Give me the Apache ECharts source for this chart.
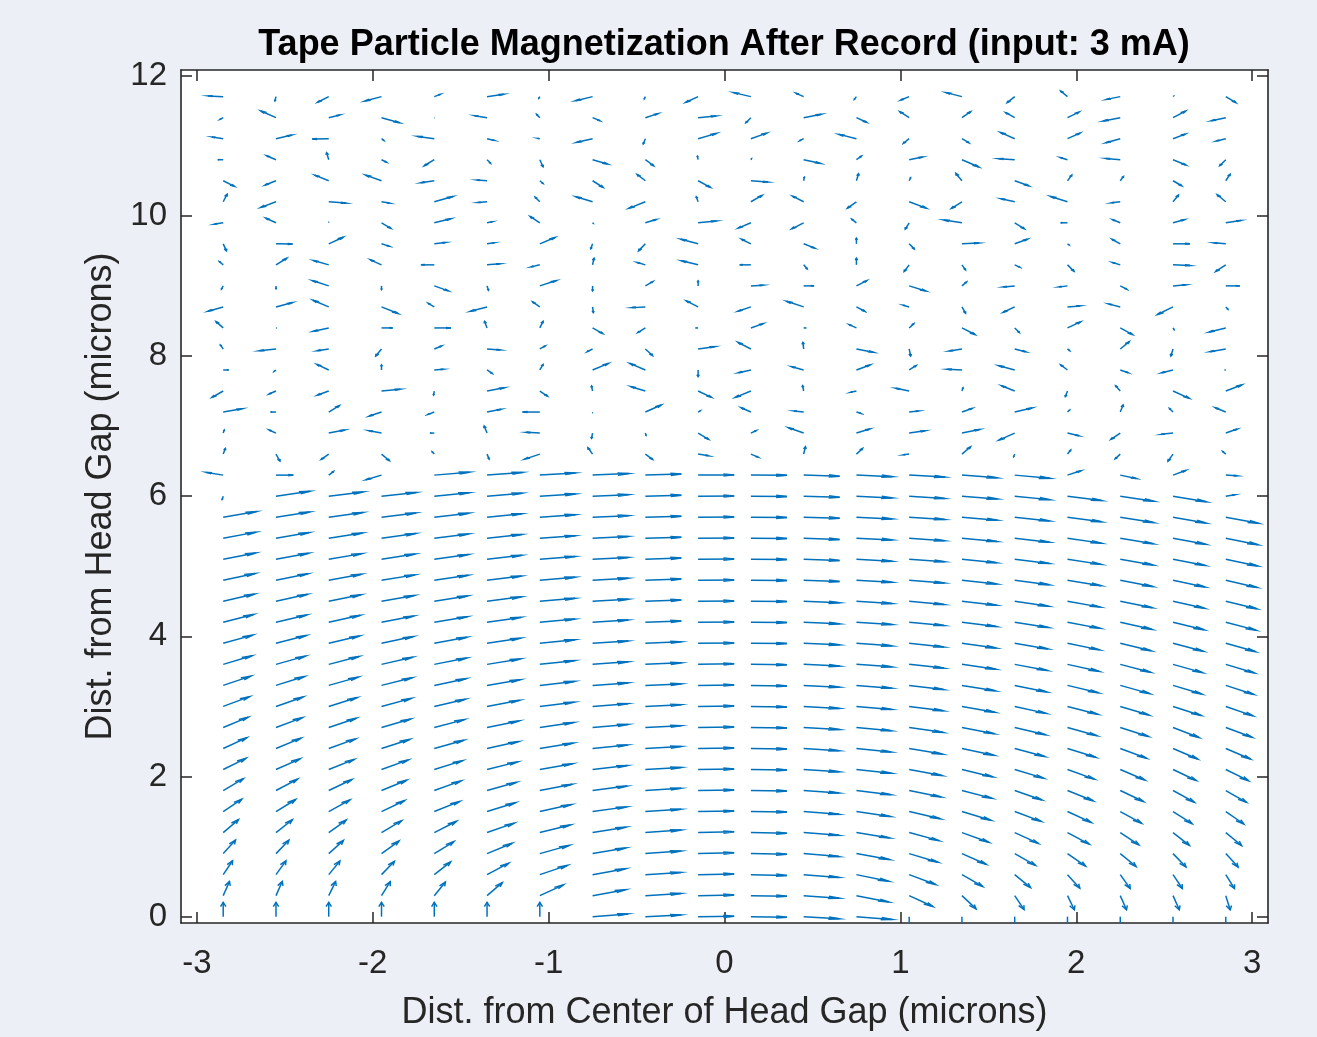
<!DOCTYPE html>
<html>
<head>
<meta charset="utf-8">
<title>Tape Particle Magnetization After Record</title>
<script src="https://cdn.jsdelivr.net/npm/echarts@6/dist/echarts.min.js"></script>
<style>
  html, body { margin: 0; padding: 0; background: #eceff5; }
  #main { width: 1317px; height: 1037px; }
</style>
</head>
<body>
<div id="main"></div>
<script>
// grid columns (microns from the centre of the head gap)
const xCols = [-2.85, -2.55, -2.25, -1.95, -1.65, -1.35, -1.05, -0.75, -0.45, -0.15,
               0.15, 0.45, 0.75, 1.05, 1.35, 1.65, 1.95, 2.25, 2.55, 2.85];

// rows where the tape got recorded: direction of the (saturated) magnetization, degrees
const yRecorded = [0, 0.3, 0.6, 0.9, 1.2, 1.5, 1.8, 2.1, 2.4, 2.7,
                   3.0, 3.3, 3.6, 3.9, 4.2, 4.5, 4.8, 5.1, 5.4, 5.7];
const recordedAngle = [
  [90, 90, 90, 90, 90, 90, 90, 11, 7, 2, -2, -8, -11, -90, -90, -90, -90, -90, -90, -90],
  [80, 80, 79, 76, 72, 65, 49, 24, 9, 3, -2, -10, -26, -49, -67, -75, -79, -80, -80, -83],
  [75, 74, 72, 69, 63, 53, 40, 24, 9, 3, -3, -11, -27, -43, -55, -64, -70, -74, -75, -76],
  [70, 69, 66, 61, 57, 46, 35, 23, 10, 3, -3, -12, -24, -37, -48, -55, -60, -64, -69, -70],
  [65, 63, 61, 56, 52, 41, 32, 22, 10, 3, -3, -11, -22, -34, -42, -49, -53, -59, -63, -64],
  [59, 57, 54, 50, 45, 38, 29, 19, 9, 2, -2, -11, -20, -30, -37, -43, -49, -54, -58, -60],
  [56, 53, 50, 46, 42, 35, 26, 18, 9, 2, -2, -10, -17, -27, -33, -41, -45, -50, -54, -55],
  [51, 48, 45, 42, 38, 32, 24, 16, 8, 2, -2, -9, -15, -25, -31, -37, -42, -47, -50, -51],
  [49, 46, 42, 39, 35, 29, 22, 14, 8, 2, -2, -9, -14, -23, -28, -34, -38, -43, -47, -47],
  [46, 43, 40, 36, 33, 27, 20, 12, 7, 2, -2, -8, -13, -20, -26, -31, -35, -39, -44, -43],
  [43, 41, 38, 34, 30, 25, 17, 11, 7, 2, -2, -8, -12, -18, -24, -29, -33, -37, -39, -41],
  [40, 38, 35, 32, 28, 23, 16, 10, 6, 2, -2, -7, -11, -17, -22, -27, -31, -35, -37, -39],
  [37, 35, 33, 30, 26, 22, 15, 10, 6, 2, -2, -7, -10, -15, -20, -25, -29, -33, -35, -37],
  [35, 33, 31, 28, 25, 21, 14, 9, 6, 1, -1, -6, -10, -15, -19, -23, -27, -31, -33, -35],
  [33, 31, 29, 26, 23, 20, 13, 9, 5, 1, -1, -6, -9, -13, -17, -21, -25, -29, -31, -33],
  [30, 29, 27, 24, 22, 18, 12, 8, 5, 1, -1, -6, -9, -13, -16, -20, -24, -27, -29, -31],
  [28, 27, 25, 22, 20, 17, 12, 8, 5, 1, -1, -5, -8, -11, -15, -18, -22, -26, -28, -30],
  [26, 25, 23, 21, 19, 16, 11, 7, 5, 1, -1, -5, -8, -10, -14, -17, -21, -24, -26, -28],
  [25, 23, 21, 19, 17, 15, 10, 7, 4, 1, -1, -5, -7, -10, -13, -16, -20, -23, -25, -27],
  [23, 21, 19, 17, 16, 14, 10, 6, 4, 1, -1, -4, -7, -9, -12, -15, -19, -22, -24, -25]
];

// rows above: mostly unrecorded particles, vector components (1 = saturated)
const yFree = [6.0, 6.3, 6.6, 6.9, 7.2, 7.5, 7.8, 8.1, 8.4, 8.7,
               9.0, 9.3, 9.6, 9.9, 10.2, 10.5, 10.8, 11.1, 11.4, 11.7];
const freeU = [
  [-0.03, 0.94, 0.956, 0.966, 0.97, 0.978, 0.988, 0.995, 0.998, 1, 1, 0.998, 0.993, 0.988, 0.982, 0.97, 0.951, 0.934, 0.921, 0.25],
  [-0.46, 0.48, 0.13, -0.43, 0.978, 0.982, 0.988, 0.995, 0.998, 1, 1, 0.998, 0.995, 0.99, 0.982, 0.974, 0.37, 0.44, 0.35, 0.31],
  [0.06, 0.11, -0.21, 0.22, -0.06, 0.06, -0.42, -0.13, 0.2, 0.29, 0.2, 0.05, 0.17, -0.16, 0.24, -0.03, 0.09, -0.14, -0.14, -0.09],
  [0.03, -0.19, 0.44, -0.35, -0.12, -0.08, -0.37, -0.03, 0.02, 0.29, 0.14, -0.42, 0.37, 0.44, 0.49, -0.44, 0.32, -0.26, -0.33, 0.32],
  [0.53, -0.15, 0.29, -0.34, -0.17, 0.39, -0.48, 0, 0.44, 0.05, -0.27, -0.27, 0.12, 0.26, 0.28, 0.48, 0.06, 0.08, -0.1, -0.29],
  [-0.31, -0.19, -0.31, 0.52, -0.02, 0.48, 0.21, -0.03, -0.4, 0.37, -0.43, -0.03, -0.16, -0.37, 0.03, -0.37, -0.06, -0.13, 0.45, 0.44],
  [0.15, -0.05, -0.33, 0, 0.25, 0.14, 0.09, 0.44, -0.43, 0, -0.34, -0.33, 0.38, 0.19, -0.4, -0.44, -0.19, 0.22, -0.31, -0.03],
  [-0.08, -0.46, -0.31, -0.16, 0.2, 0.37, 0.15, -0.15, 0.2, 0.46, -0.36, -0.02, 0.47, 0.04, -0.35, 0.3, 0.06, 0.25, -0.06, -0.44],
  [-0.2, 0.02, -0.42, 0.31, 0.46, -0.07, 0.09, 0.28, -0.21, -0.07, 0.34, 0.07, -0.2, 0.13, 0.36, 0.13, 0.36, 0.34, 0.03, -0.46],
  [-0.42, 0.46, -0.44, 0.46, -0.17, -0.46, -0.2, 0.02, -0.37, -0.33, -0.36, -0.47, 0.23, -0.17, 0.1, -0.32, 0.35, -0.33, -0.43, 0.06],
  [-0.05, 0, -0.46, 0, 0.39, 0.04, 0.46, 0, 0.21, 0, 0.34, 0.29, 0.29, 0.46, 0.13, -0.31, -0.23, 0.18, 0.36, 0.39],
  [-0.11, 0.3, -0.42, -0.31, -0.37, 0.36, -0.24, 0.04, -0.22, -0.46, -0.31, 0.1, 0, -0.14, 0.1, 0.14, 0.18, -0.21, 0.47, -0.28],
  [0.09, 0.46, 0.4, 0.21, 0.31, 0.2, 0.42, -0.05, -0.19, -0.48, -0.26, 0.31, 0, 0.14, 0.47, 0.35, 0.04, -0.23, 0.47, -0.33],
  [-0.24, -0.28, 0, 0.26, 0.46, 0.14, -0.27, 0.01, 0.3, 0.51, -0.35, -0.33, -0.13, -0.11, -0.5, 0.27, -0.19, -0.21, 0.31, 0.42],
  [0.11, -0.42, 0.48, 0.22, 0.52, -0.25, -0.13, -0.46, -0.46, -0.05, 0.31, -0.31, -0.25, 0.47, -0.29, -0.38, -0.47, -0.24, 0.15, -0.24],
  [0.31, -0.3, -0.39, -0.44, -0.37, -0.28, 0.09, 0.29, -0.23, 0.34, 0.47, 0.02, 0.06, 0.04, -0.17, 0.39, 0.12, 0.09, 0.24, 0.12],
  [-0.15, -0.26, -0.06, 0.13, -0.28, 0.1, 0.09, 0.41, 0.23, -0.02, 0.02, 0.46, 0.14, 0.37, 0.47, -0.44, -0.19, -0.4, 0.36, -0.17],
  [-0.31, 0.44, -0.46, 0.07, -0.46, 0.2, -0.05, -0.44, -0.06, 0.51, 0.44, -0.11, -0.48, -0.16, 0.19, -0.4, 0.35, -0.4, 0.34, -0.26],
  [-0.09, -0.42, 0.31, 0.5, 0.01, -0.35, -0.09, 0.2, 0.35, 0.5, -0.14, 0.49, 0.28, -0.26, 0.24, -0.25, 0.32, -0.47, 0.35, -0.4],
  [-0.42, -0.03, -0.31, -0.46, 0.17, 0.46, -0.03, -0.47, -0.03, -0.34, -0.48, -0.21, -0.06, -0.23, -0.44, -0.21, -0.19, -0.38, 0.01, 0.28]
];
const freeV = [
  [-0.23, 0.34, 0.292, 0.259, 0.242, 0.208, 0.156, 0.105, 0.07, 0.017, -0.017, -0.07, -0.122, -0.156, -0.191, -0.242, -0.309, -0.358, -0.391, 0.09],
  [0.19, 0, 0.25, -0.32, 0.208, 0.191, 0.156, 0.105, 0.07, 0.017, -0.017, -0.07, -0.105, -0.139, -0.191, -0.225, 0.3, -0.23, 0.32, -0.05],
  [0.39, -0.49, -0.37, -0.46, 0.16, -0.35, -0.35, 0.44, -0.37, -0.12, -0.21, 0.51, 0.39, -0.05, 0.51, -0.19, 0.28, -0.32, -0.49, 0.19],
  [0.21, 0.21, 0.21, 0.16, 0, 0.49, 0.05, -0.37, -0.16, -0.44, 0.16, 0.37, 0.28, 0.16, 0.25, -0.49, -0.19, -0.44, -0.09, 0.28],
  [0.23, 0, 0.44, -0.28, -0.16, 0.19, 0, -0.02, 0.49, 0.07, 0.3, 0.07, -0.09, 0.07, 0.25, 0.28, 0.14, 0.49, 0.25, 0.3],
  [-0.44, -0.21, -0.28, 0.12, -0.28, 0.23, -0.35, 0.35, 0.3, -0.44, -0.44, 0.37, -0.09, 0.19, 0.23, 0.37, -0.39, 0.37, -0.51, 0.42],
  [0, -0.09, 0.39, 0.35, 0.05, -0.23, 0.39, 0.46, 0.46, -0.46, -0.19, 0.23, 0.35, 0.3, 0.05, 0.3, 0.35, -0.19, -0.19, 0],
  [0.28, -0.12, -0.12, -0.49, 0.21, -0.07, 0.21, -0.19, -0.46, 0.16, 0.46, 0.46, -0.23, -0.49, -0.14, -0.19, -0.12, 0.51, -0.49, -0.19],
  [0.44, 0, -0.23, 0, 0, 0.46, 0.46, -0.39, -0.32, 0, 0.3, 0, 0.23, 0.3, -0.46, -0.32, 0.42, -0.46, -0.12, -0.28],
  [-0.3, 0.3, 0.46, -0.46, 0.25, -0.3, 0.35, -0.39, -0.05, 0.42, -0.3, 0.39, -0.3, 0.12, -0.44, -0.37, 0.07, 0.21, -0.53, -0.16],
  [-0.23, -0.2, 0.37, -0.25, -0.35, -0.3, 0.37, -0.35, 0.3, 0.35, 0.05, 0, 0.37, -0.35, 0.28, -0.07, -0.07, -0.23, 0.07, 0],
  [0.23, 0.46, 0.3, 0.35, 0, 0.07, -0.14, 0.46, 0.16, 0.28, 0, -0.28, 0.46, -0.46, -0.35, -0.16, -0.44, 0.16, -0.05, -0.46],
  [-0.49, -0.02, 0.46, -0.16, 0.09, 0.07, 0.44, -0.35, -0.49, 0.32, 0.32, -0.3, 0.39, -0.35, 0.05, 0.32, -0.07, 0.32, 0, 0.07],
  [-0.09, 0.32, 0.02, -0.39, 0.28, 0.07, 0.44, -0.02, 0.23, 0.12, -0.37, -0.42, 0.25, -0.44, 0.19, -0.42, 0, 0.21, 0.21, 0.16],
  [0.53, -0.39, -0.09, -0.09, 0.37, -0.05, 0.32, 0.35, -0.46, 0.35, 0.44, 0.39, -0.44, -0.44, -0.46, 0.21, 0.37, -0.07, 0.46, 0.49],
  [-0.39, -0.3, 0.39, 0.39, -0.14, 0.05, -0.19, -0.46, 0.44, -0.46, -0.09, 0.25, 0.49, 0.21, 0.51, -0.35, 0.39, 0.3, -0.35, 0.46],
  [0, 0.28, 0.49, -0.16, -0.42, -0.25, -0.49, -0.3, -0.42, 0.25, 0.07, -0.25, 0.25, 0.19, -0.51, 0.07, 0.14, 0.09, -0.37, -0.42],
  [0.12, 0.25, -0.02, -0.14, 0.16, -0.12, 0.02, -0.25, -0.37, 0.37, 0.39, -0.14, 0.3, -0.32, -0.28, 0.44, 0.39, -0.28, 0.32, -0.16],
  [-0.12, 0.46, 0.19, -0.35, 0, 0.14, 0.23, -0.21, 0.28, 0.12, -0.35, 0.23, -0.32, 0.42, 0.42, 0.35, 0.39, -0.23, 0.46, -0.21],
  [0.05, -0.3, -0.39, -0.3, 0.16, 0.16, -0.12, -0.28, -0.16, -0.39, 0.28, 0.23, -0.19, -0.23, 0.28, -0.42, 0.39, -0.19, 0.02, -0.42]
];

const xTicks = [-3, -2, -1, 0, 1, 2, 3];
const yTicks = [0, 2, 4, 6, 8, 10, 12];

// quiver look
const arrowScale = 0.205;   // data length of a saturated vector
const headLen = 0.3;
const headWid = 0.25;
const arrowColor = '#0072bd';
const axisColor = '#262626';
const font = 'Liberation Sans';

// [x, y, u, v] for every grid point
const arrows = [];
yRecorded.forEach((y, r) => {
  xCols.forEach((x, c) => {
    const a = recordedAngle[r][c] * Math.PI / 180;
    arrows.push([x, y, Math.cos(a), Math.sin(a)]);
  });
});
yFree.forEach((y, r) => {
  xCols.forEach((x, c) => {
    arrows.push([x, y, freeU[r][c], freeV[r][c]]);
  });
});

function renderArrow(params, api) {
  const x = api.value(0), y = api.value(1);
  const u = api.value(2) * arrowScale, v = api.value(3) * arrowScale;
  const tx = x + u, ty = y + v;
  const start = api.coord([x, y]);
  const tip = api.coord([tx, ty]);
  const b1 = api.coord([tx - headLen * (u + headWid * v), ty - headLen * (v - headWid * u)]);
  const b2 = api.coord([tx - headLen * (u - headWid * v), ty - headLen * (v + headWid * u)]);
  const style = { stroke: arrowColor, lineWidth: 1.5, fill: null };
  return {
    type: 'group',
    children: [
      { type: 'line', shape: { x1: start[0], y1: start[1], x2: tip[0], y2: tip[1] }, style: style },
      { type: 'polyline', shape: { points: [b1, tip, b2] }, style: style }
    ]
  };
}

function frameAxis(position, ticks, showLabels) {
  return {
    type: 'value',
    position: position,
    axisLine: { show: true, onZero: false, lineStyle: { color: axisColor, width: 1.6 } },
    axisTick: { show: true, inside: true, length: 11, customValues: ticks,
                lineStyle: { color: axisColor, width: 1.5 } },
    axisLabel: { show: showLabels, customValues: ticks, color: axisColor,
                 fontSize: 33, fontFamily: font },
    splitLine: { show: false }
  };
}

const xBottom = Object.assign(frameAxis('bottom', xTicks, true), {
  min: -3.09, max: 3.09,
  name: 'Dist. from Center of Head Gap (microns)',
  nameLocation: 'middle', nameGap: 72,
  nameTextStyle: { fontSize: 36, color: axisColor, fontFamily: font }
});
xBottom.axisLabel.margin = 24;
const xTop = Object.assign(frameAxis('top', xTicks, false), { min: -3.09, max: 3.09 });

const yLeft = Object.assign(frameAxis('left', yTicks, true), {
  min: -0.09, max: 12.08,
  name: 'Dist. from Head Gap (microns)',
  nameLocation: 'middle', nameGap: 62,
  nameTextStyle: { fontSize: 36, color: axisColor, fontFamily: font }
});
yLeft.axisLabel.margin = 14;
const yRight = Object.assign(frameAxis('right', yTicks, false), { min: -0.09, max: 12.08 });

const option = {
  animation: false,
  backgroundColor: '#eceff5',
  textStyle: { fontFamily: font },
  graphic: [{
    type: 'text',
    x: 724, y: 45,
    style: {
      text: 'Tape Particle Magnetization After Record (input: 3 mA)',
      font: 'bold 36px "Liberation Sans"',
      fill: '#000',
      textAlign: 'center',
      textVerticalAlign: 'middle'
    }
  }],
  grid: {
    left: 181, top: 70, width: 1087, height: 853,
    show: true, backgroundColor: '#ffffff', borderWidth: 0
  },
  xAxis: [xBottom, xTop],
  yAxis: [yLeft, yRight],
  series: [{
    type: 'custom',
    xAxisIndex: 0,
    yAxisIndex: 0,
    clip: true,
    silent: true,
    renderItem: renderArrow,
    encode: { x: 0, y: 1 },
    data: arrows
  }]
};

const chart = echarts.init(document.getElementById('main'));
chart.setOption(option);
</script>
</body>
</html>
